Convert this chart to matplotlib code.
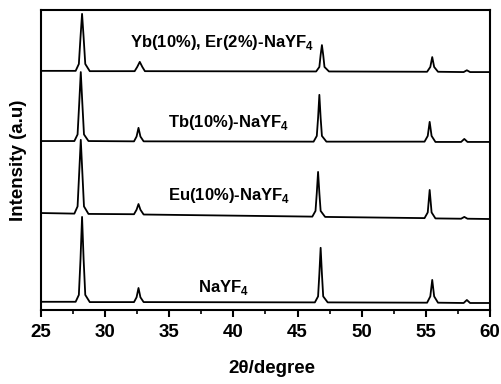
import numpy as np
import matplotlib.pyplot as plt

plt.rcParams['font.family'] = ['Liberation Sans', 'DejaVu Sans']
plt.rcParams['mathtext.fontset'] = 'custom'
plt.rcParams['mathtext.rm'] = 'Liberation Sans:bold'

# traces (y in arbitrary offset units, 0-100)
nayf4_x = [25, 27.7, 27.95, 28.08, 28.2, 28.32, 28.45, 28.8,
           32.25, 32.45, 32.6, 32.75, 33.0,
           46.35, 46.6, 46.7, 46.8, 46.9, 47.0, 47.35,
           55.1, 55.35, 55.5, 55.65, 55.95,
           57.95, 58.2, 58.45, 60]
nayf4_y = [2.7, 2.7, 5, 17, 31, 17, 5, 2.6,
           2.6, 4.2, 7.3, 4.2, 2.6,
           2.5, 4.5, 12, 20.7, 12, 4.5, 2.5,
           2.4, 4.5, 10, 4.5, 2.4,
           2.3, 3.3, 2.3, 2.3]

eu_x = [25, 27.6, 27.85, 27.98, 28.1, 28.22, 28.35, 28.7,
        32.25, 32.45, 32.6, 32.75, 33.0,
        46.15, 46.4, 46.5, 46.6, 46.7, 46.8, 47.15,
        54.9, 55.15, 55.3, 55.45, 55.75,
        57.75, 58.0, 58.25, 60]
eu_y = [32.3, 32.1, 34.5, 46, 56.7, 46, 34.5, 32.0,
        31.9, 33.4, 35.3, 33.4, 31.8,
        31.1, 33, 39, 46, 39, 33, 31.0,
        30.6, 32.5, 40, 32.5, 30.5,
        30.4, 31.0, 30.4, 30.3]

tb_x = [25, 27.6, 27.85, 27.98, 28.1, 28.22, 28.35, 28.7,
        32.25, 32.45, 32.6, 32.75, 33.0,
        46.25, 46.5, 46.6, 46.7, 46.8, 46.9, 47.25,
        54.9, 55.15, 55.3, 55.45, 55.75,
        57.75, 58.0, 58.25, 60]
tb_y = [56.3, 56.3, 58.5, 69, 79.3, 69, 58.5, 56.3,
        56.2, 57.8, 60.7, 57.8, 56.2,
        56.1, 58, 64, 71.7, 64, 58, 56.1,
        56.1, 58, 62.7, 58, 56.0,
        56.0, 57.0, 56.0, 56.0]

yb_x = [25, 27.7, 27.95, 28.08, 28.2, 28.32, 28.45, 28.8,
        32.3, 32.5, 32.7, 32.9, 33.1,
        46.45, 46.7, 46.8, 46.9, 47.0, 47.1, 47.45,
        55.1, 55.35, 55.5, 55.65, 55.95,
        57.95, 58.2, 58.45, 60]
yb_y = [79.7, 79.7, 82, 91, 98.7, 91, 82, 79.6,
        79.6, 81, 82.7, 81, 79.6,
        79.5, 81, 85, 88.3, 85, 81, 79.5,
        79.4, 81, 84.3, 81, 79.4,
        79.3, 79.9, 79.3, 79.3]

labels = ['NaYF$_{4}$', 'Eu(10%)-NaYF$_{4}$', 'Tb(10%)-NaYF$_{4}$',
          'Yb(10%), Er(2%)-NaYF$_{4}$']
label_x = [37.2, 34.9, 34.9, 31.9]
label_y = [6.0, 36.7, 61.0, 87.7]

fig = plt.figure(figsize=(5.02, 3.84), dpi=100)
ax = fig.add_axes([0.0817, 0.193, 0.8943, 0.781])

for xs, ys in [(nayf4_x, nayf4_y), (eu_x, eu_y), (tb_x, tb_y), (yb_x, yb_y)]:
    ax.plot(xs, ys, color='black', lw=1.3)

for t, x, y in zip(labels, label_x, label_y):
    ax.text(x, y, t, fontsize=12, fontweight='bold', ha='left', va='baseline')

ax.set_xlim(25, 60)
ax.set_ylim(0, 100)
ax.set_xticks(np.arange(25, 61, 5))
ax.set_xticks(np.arange(25, 60, 2.5), minor=True)
ax.set_yticks([])
ax.tick_params(axis='x', which='major', direction='out', length=5, width=1.5,
               labelsize=13.5, pad=5)
ax.tick_params(axis='x', which='minor', direction='out', length=3, width=1.2)
for lab in ax.get_xticklabels():
    lab.set_fontweight('bold')
for s in ax.spines.values():
    s.set_linewidth(1.5)

ax.set_xlabel('2θ/degree', fontsize=13.5, fontweight='bold')
ax.xaxis.set_label_coords(0.514, -0.167)
ax.set_ylabel('Intensity (a.u)', fontsize=13.5, fontweight='bold', labelpad=10)

fig.savefig('out.png', dpi=100)
